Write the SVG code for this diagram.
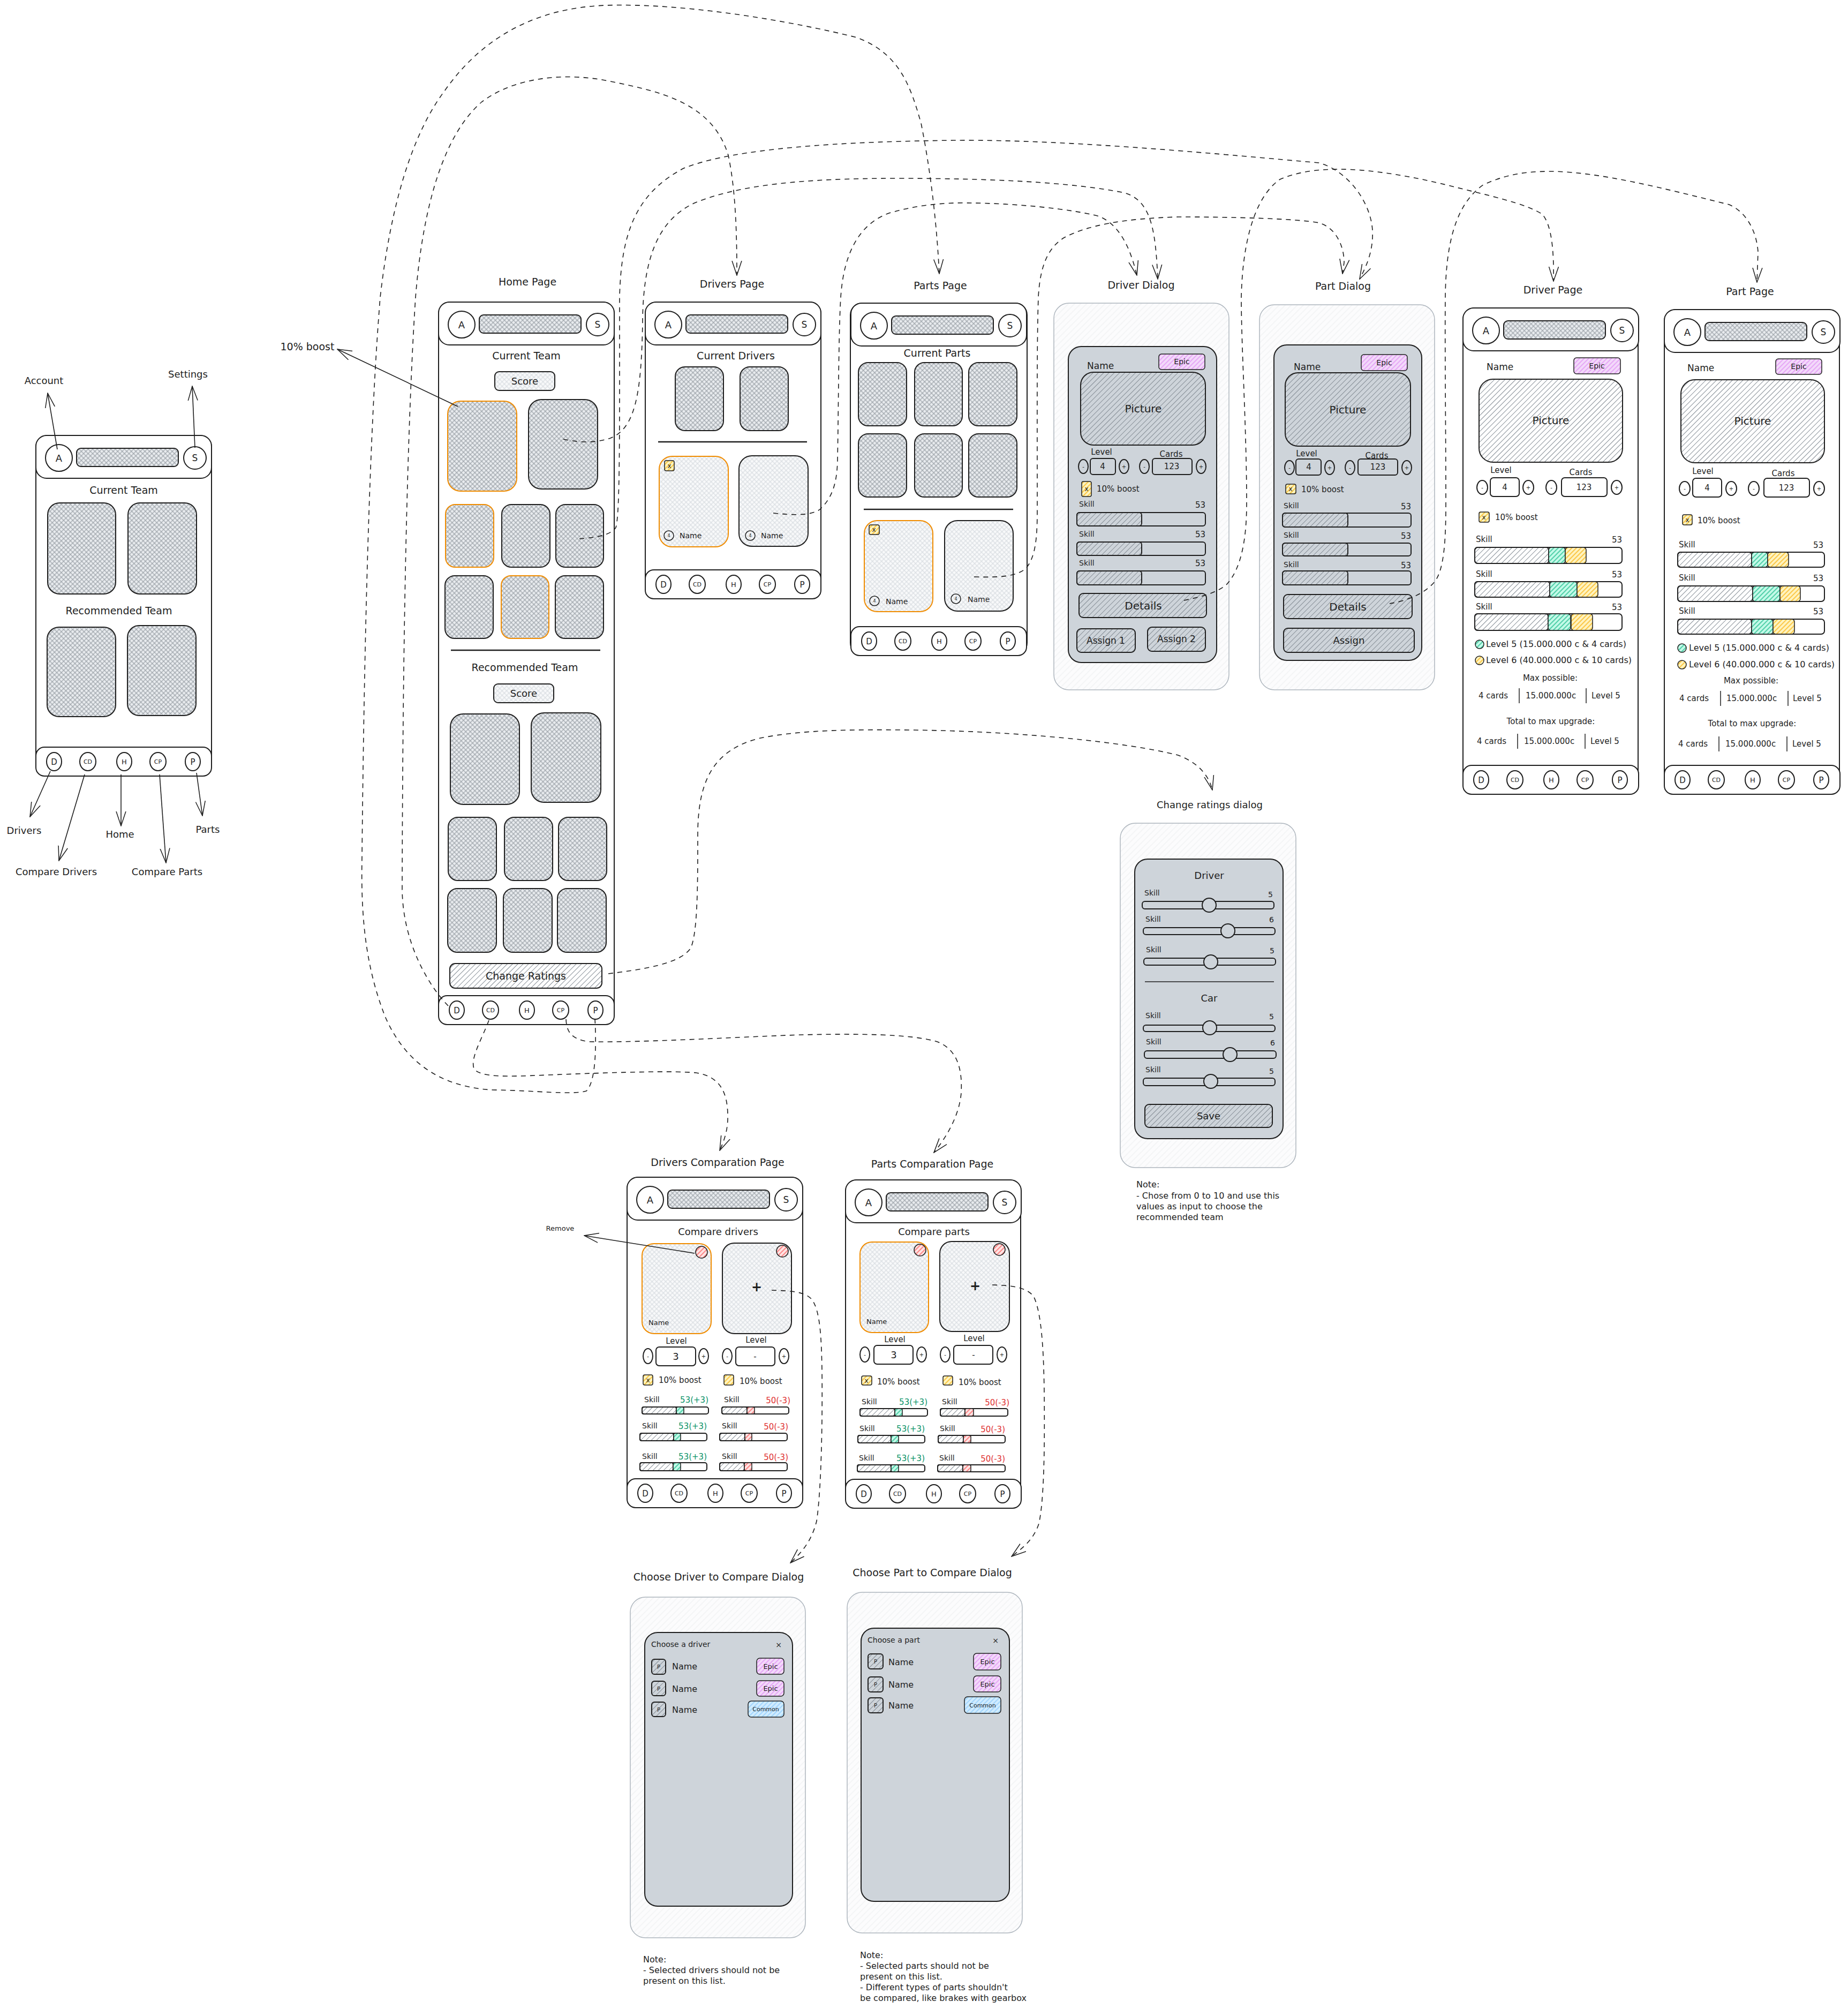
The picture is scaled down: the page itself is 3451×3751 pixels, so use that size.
<svg xmlns="http://www.w3.org/2000/svg" xmlns:xlink="http://www.w3.org/1999/xlink" width="3451" height="3751" viewBox="0 0 3451 3751">
<style>
.t{font-family:"DejaVu Sans","Liberation Sans",sans-serif;fill:#1e1e1e}
.m{text-anchor:middle}.e{text-anchor:end}
.f8{font-size:8px}.f10{font-size:10px}.f11{font-size:11px}.f12{font-size:12px}.f13{font-size:13px}.f14{font-size:14px}.f15{font-size:15px}.f16{font-size:16px}.f17{font-size:17px}.f18{font-size:18px}.f19{font-size:19px}.f20{font-size:20px}.f22{font-size:24px;font-weight:bold}
.wf{fill:#fff;stroke:#1e1e1e;stroke-width:2}
.ln{fill:none;stroke:#1e1e1e;stroke-width:2}
.lw{fill:none;stroke:#1e1e1e;stroke-width:1.5}
.xh{fill:url(#xh);stroke:#1e1e1e;stroke-width:2}
.xho{fill:url(#xh);stroke:#f08c00;stroke-width:2}
.lx{fill:url(#lx);stroke:#1e1e1e;stroke-width:2}
.lxo{fill:url(#lx);stroke:#f08c00;stroke-width:2}
.hg{fill:url(#hg);stroke:#1e1e1e;stroke-width:2}
.pan{fill:#ced4da;stroke:#1e1e1e;stroke-width:2}
.out{fill:url(#lh);stroke:#adb5bd;stroke-width:1.5}
.pu{fill:url(#pu);stroke:#1e1e1e;stroke-width:1.5}
.bl{fill:url(#blp);stroke:#1e1e1e;stroke-width:1.5}
.gn{fill:url(#gn);stroke:#1e1e1e;stroke-width:1.5}
.yl{fill:url(#yl);stroke:#1e1e1e;stroke-width:1.5}
.rd{fill:url(#rd);stroke:#1e1e1e;stroke-width:1.5}
.kn{fill:#ced4da;stroke:#1e1e1e;stroke-width:2}
.sep{stroke:#1e1e1e;stroke-width:2.5}
.sp{stroke:#1e1e1e;stroke-width:1.5}
.grt{fill:#099268}.rdt{fill:#e03131}
.cd{fill:none;stroke:#1e1e1e;stroke-width:1.6;stroke-dasharray:9 8;marker-end:url(#ah)}
.cs{fill:none;stroke:#1e1e1e;stroke-width:1.6;marker-end:url(#ah)}
</style>
<defs>
<pattern id="xh" width="6" height="6" patternUnits="userSpaceOnUse" patternTransform="rotate(45)"><rect width="6" height="6" fill="#e9ecef"/><path d="M0 3H6M3 0V6" stroke="#8d949b" stroke-width="1"/></pattern>
<pattern id="lx" width="6" height="6" patternUnits="userSpaceOnUse" patternTransform="rotate(45)"><rect width="6" height="6" fill="#f8f9fa"/><path d="M0 3H6M3 0V6" stroke="#d3d8dd" stroke-width="1"/></pattern>
<pattern id="hg" width="7" height="7" patternUnits="userSpaceOnUse" patternTransform="rotate(-45)"><path d="M0 3.5H7" stroke="#868e96" stroke-width="1"/></pattern>
<pattern id="lh" width="8" height="8" patternUnits="userSpaceOnUse" patternTransform="rotate(-45)"><rect width="8" height="8" fill="#fcfcfd"/><path d="M0 4H8" stroke="#eceef0" stroke-width="1"/></pattern>
<pattern id="pu" width="6" height="6" patternUnits="userSpaceOnUse" patternTransform="rotate(-45)"><rect width="6" height="6" fill="#f3d9fa"/><path d="M0 3H6" stroke="#da77f2" stroke-width="1"/></pattern>
<pattern id="blp" width="6" height="6" patternUnits="userSpaceOnUse" patternTransform="rotate(-45)"><rect width="6" height="6" fill="#d0ebff"/><path d="M0 3H6" stroke="#74c0fc" stroke-width="1"/></pattern>
<pattern id="gn" width="6" height="6" patternUnits="userSpaceOnUse" patternTransform="rotate(-45)"><rect width="6" height="6" fill="#c3fae8"/><path d="M0 3H6" stroke="#12b886" stroke-width="1.3"/></pattern>
<pattern id="yl" width="6" height="6" patternUnits="userSpaceOnUse" patternTransform="rotate(-45)"><rect width="6" height="6" fill="#fff3bf"/><path d="M0 3H6" stroke="#fab005" stroke-width="1.3"/></pattern>
<pattern id="rd" width="6" height="6" patternUnits="userSpaceOnUse" patternTransform="rotate(-45)"><rect width="6" height="6" fill="#ffe3e3"/><path d="M0 3H6" stroke="#fa5252" stroke-width="1.3"/></pattern>
<marker id="ah" markerWidth="28" markerHeight="20" viewBox="0 0 28 20" refX="27" refY="10" orient="auto" markerUnits="userSpaceOnUse"><path d="M0 1L27 10L0 19" fill="none" stroke="#1e1e1e" stroke-width="1.5"/></marker>
<g id="hdr">
<rect width="328" height="80" rx="20" class="wf"/>
<circle cx="43" cy="42" r="25" class="ln"/>
<text x="43" y="49" class="t m f18">A</text>
<rect x="76" y="24" width="190" height="34" rx="8" class="xh"/>
<circle cx="297" cy="42" r="21" class="ln"/>
<text x="297" y="48" class="t m f17">S</text>
</g>
<g id="nav">
<rect width="328" height="54" rx="16" class="wf"/>
<ellipse cx="34" cy="27" rx="14" ry="17" class="ln"/>
<ellipse cx="97" cy="27" rx="15" ry="17" class="ln"/>
<ellipse cx="165" cy="27" rx="14" ry="17" class="ln"/>
<ellipse cx="228" cy="27" rx="15" ry="17" class="ln"/>
<ellipse cx="293" cy="27" rx="14" ry="17" class="ln"/>
<text x="34" y="33" class="t m f15">D</text>
<text x="97" y="31" class="t m f11">CD</text>
<text x="165" y="32" class="t m f13">H</text>
<text x="228" y="31" class="t m f11">CP</text>
<text x="293" y="33" class="t m f15">P</text>
</g>
</defs>
<rect width="3451" height="3751" fill="#fff"/>

<!-- Overview phone -->
<g id="n-overview">
<rect x="67" y="813" width="328" height="636" rx="22" class="wf"/>
<use href="#hdr" x="67" y="813"/>
<text x="231" y="922" class="t m f19">Current Team</text>
<rect x="89" y="939" width="127" height="170" rx="22" class="xh"/>
<rect x="239" y="939" width="128" height="170" rx="22" class="xh"/>
<text x="222" y="1147" class="t m f19">Recommended Team</text>
<rect x="88" y="1171" width="128" height="167" rx="22" class="xh"/>
<rect x="238" y="1168" width="128" height="168" rx="22" class="xh"/>
<use href="#nav" x="67" y="1395"/>
</g>
<g id="n-labels">
<text x="82" y="717" class="t m f18">Account</text>
<text x="351" y="705" class="t m f18">Settings</text>
<text x="45" y="1557" class="t m f18">Drivers</text>
<text x="105" y="1634" class="t m f18">Compare Drivers</text>
<text x="224" y="1564" class="t m f18">Home</text>
<text x="312" y="1634" class="t m f18">Compare Parts</text>
<text x="388" y="1555" class="t m f18">Parts</text>
<text x="574" y="654" class="t m f19">10% boost</text>
<text x="1046" y="2298" class="t m f13">Remove</text>
</g>

<!-- Home page -->
<g id="n-home">
<text x="985" y="533" class="t m f19">Home Page</text>
<rect x="819" y="564" width="328" height="1348" rx="22" class="wf"/>
<use href="#hdr" x="819" y="564"/>
<text x="983" y="671" class="t m f19">Current Team</text>
<rect x="924" y="694" width="112" height="35" rx="8" class="lx"/>
<text x="980" y="718" class="t m f18">Score</text>
<rect x="836" y="749" width="129" height="168" rx="24" class="xho"/>
<rect x="987" y="746" width="129" height="167" rx="24" class="xh"/>
<rect x="832" y="942" width="90" height="117" rx="18" class="xho"/>
<rect x="937" y="942" width="90" height="117" rx="18" class="xh"/>
<rect x="1038" y="942" width="89" height="117" rx="18" class="xh"/>
<rect x="831" y="1075" width="90" height="117" rx="18" class="xh"/>
<rect x="936" y="1075" width="89" height="117" rx="18" class="xho"/>
<rect x="1037" y="1075" width="90" height="117" rx="18" class="xh"/>
<line x1="842" y1="1214" x2="1121" y2="1214" class="sep"/>
<text x="980" y="1253" class="t m f19">Recommended Team</text>
<rect x="922" y="1277" width="112" height="35" rx="8" class="lx"/>
<text x="978" y="1301" class="t m f18">Score</text>
<rect x="841" y="1333" width="129" height="169" rx="24" class="xh"/>
<rect x="992" y="1331" width="130" height="167" rx="24" class="xh"/>
<rect x="837" y="1526" width="90" height="118" rx="18" class="xh"/>
<rect x="942" y="1526" width="90" height="118" rx="18" class="xh"/>
<rect x="1043" y="1526" width="90" height="118" rx="18" class="xh"/>
<rect x="836" y="1659" width="91" height="119" rx="18" class="xh"/>
<rect x="940" y="1659" width="91" height="119" rx="18" class="xh"/>
<rect x="1041" y="1659" width="91" height="119" rx="18" class="xh"/>
<rect x="840" y="1799" width="284" height="46" rx="10" class="hg"/>
<text x="982" y="1829" class="t m f19">Change Ratings</text>
<use href="#nav" x="819" y="1859"/>
</g>

<!-- Drivers page -->
<g id="n-drivers">
<text x="1367" y="537" class="t m f19">Drivers Page</text>
<rect x="1205" y="564" width="328" height="554" rx="22" class="wf"/>
<use href="#hdr" x="1205" y="564"/>
<text x="1374" y="671" class="t m f19">Current Drivers</text>
<rect x="1261" y="685" width="90" height="119" rx="18" class="xh"/>
<rect x="1382" y="685" width="90" height="119" rx="18" class="xh"/>
<line x1="1229" y1="825" x2="1507" y2="825" class="sep"/>
<rect x="1231" y="852" width="129" height="169" rx="24" class="lxo"/>
<rect x="1241" y="860" width="18" height="19" rx="3" class="yl"/>
<text x="1250" y="874" class="t m f12">x</text>
<circle cx="1249" cy="1000" r="9" class="lw"/>
<text x="1249" y="1003" class="t m f8">4</text>
<text x="1269" y="1005" class="t f14">Name</text>
<rect x="1380" y="851" width="129" height="169" rx="24" class="lx"/>
<circle cx="1401" cy="1000" r="9" class="lw"/>
<text x="1401" y="1003" class="t m f8">4</text>
<text x="1421" y="1005" class="t f14">Name</text>
<use href="#nav" x="1205" y="1064"/>
</g>

<!-- Parts page -->
<g id="n-parts">
<text x="1756" y="540" class="t m f19">Parts Page</text>
<rect x="1588" y="566" width="330" height="656" rx="22" class="wf"/>
<use href="#hdr" x="1589" y="566"/>
<text x="1750" y="666" class="t m f19">Current Parts</text>
<rect x="1603" y="677" width="90" height="118" rx="18" class="xh"/>
<rect x="1708" y="677" width="89" height="118" rx="18" class="xh"/>
<rect x="1809" y="677" width="90" height="118" rx="18" class="xh"/>
<rect x="1603" y="810" width="90" height="118" rx="18" class="xh"/>
<rect x="1708" y="810" width="89" height="118" rx="18" class="xh"/>
<rect x="1809" y="810" width="90" height="118" rx="18" class="xh"/>
<line x1="1613" y1="951" x2="1892" y2="951" class="sep"/>
<rect x="1614" y="972" width="128" height="170" rx="24" class="lxo"/>
<rect x="1623" y="980" width="19" height="18" rx="3" class="yl"/>
<text x="1632" y="993" class="t m f12">x</text>
<circle cx="1633" cy="1122" r="9" class="lw"/>
<text x="1633" y="1125" class="t m f8">4</text>
<text x="1654" y="1128" class="t f14">Name</text>
<rect x="1764" y="972" width="128" height="169" rx="24" class="lx"/>
<circle cx="1785" cy="1118" r="9" class="lw"/>
<text x="1785" y="1121" class="t m f8">4</text>
<text x="1807" y="1124" class="t f14">Name</text>
<use href="#nav" x="1589" y="1170"/>
</g>

<!-- Driver dialog -->
<g id="n-driver-dialog">
<text x="2131" y="539" class="t m f19">Driver Dialog</text>
<rect x="1968" y="566" width="327" height="722" rx="28" class="out"/>
<rect x="1995" y="647" width="277" height="590" rx="24" class="pan"/>
<text x="2030" y="689" class="t f17">Name</text>
<rect x="2164" y="661" width="86" height="29" rx="5" class="pu"/>
<text x="2207" y="680" class="t m f14">Epic</text>
<rect x="2018" y="695" width="233" height="136" rx="24" class="hg"/>
<text x="2135" y="770" class="t m f20">Picture</text>
<text x="2057" y="849" class="t m f15">Level</text>
<text x="2187" y="853" class="t m f15">Cards</text>
<ellipse cx="2023" cy="871" rx="9" ry="13" class="ln"/><text x="2023" y="875" class="t m f10">-</text>
<rect x="2036" y="856" width="47" height="30" rx="5" class="ln"/><text x="2059" y="876" class="t m f15">4</text>
<ellipse cx="2099" cy="871" rx="9" ry="13" class="ln"/><text x="2099" y="875" class="t m f10">+</text>
<ellipse cx="2137" cy="871" rx="9" ry="13" class="ln"/><text x="2137" y="875" class="t m f10">-</text>
<rect x="2152" y="856" width="74" height="30" rx="5" class="ln"/><text x="2188" y="876" class="t m f15">123</text>
<ellipse cx="2243" cy="871" rx="9" ry="13" class="ln"/><text x="2243" y="875" class="t m f10">+</text>
<rect x="2020" y="899" width="18" height="28" rx="3" class="yl"/>
<text x="2029" y="917" class="t m f12">x</text>
<text x="2048" y="918" class="t f15">10% boost</text>
<text x="2015" y="946" class="t f14">Skill</text><text x="2251" y="948" class="t e f15">53</text>
<rect x="2011" y="957" width="240" height="25" rx="5" class="ln"/><rect x="2011" y="957" width="121" height="25" rx="5" class="hg"/>
<text x="2015" y="1002" class="t f14">Skill</text><text x="2251" y="1003" class="t e f15">53</text>
<rect x="2011" y="1012" width="240" height="25" rx="5" class="ln"/><rect x="2011" y="1012" width="121" height="25" rx="5" class="hg"/>
<text x="2015" y="1056" class="t f14">Skill</text><text x="2251" y="1057" class="t e f15">53</text>
<rect x="2011" y="1066" width="240" height="26" rx="5" class="ln"/><rect x="2011" y="1066" width="121" height="26" rx="5" class="hg"/>
<rect x="2015" y="1108" width="238" height="45" rx="8" class="hg"/>
<text x="2135" y="1138" class="t m f20">Details</text>
<rect x="2011" y="1174" width="109" height="44" rx="8" class="hg"/>
<text x="2065" y="1202" class="t m f17">Assign 1</text>
<rect x="2143" y="1171" width="108" height="45" rx="8" class="hg"/>
<text x="2197" y="1199" class="t m f17">Assign 2</text>
</g>

<!-- Part dialog -->
<g id="n-part-dialog">
<text x="2508" y="541" class="t m f19">Part Dialog</text>
<rect x="2352" y="569" width="327" height="719" rx="28" class="out"/>
<rect x="2379" y="644" width="276" height="589" rx="24" class="pan"/>
<text x="2416" y="691" class="t f17">Name</text>
<rect x="2542" y="662" width="86" height="30" rx="5" class="pu"/>
<text x="2585" y="682" class="t m f14">Epic</text>
<rect x="2400" y="696" width="234" height="137" rx="24" class="hg"/>
<text x="2517" y="772" class="t m f20">Picture</text>
<text x="2440" y="852" class="t m f15">Level</text>
<text x="2571" y="856" class="t m f15">Cards</text>
<ellipse cx="2408" cy="873" rx="9" ry="13" class="ln"/><text x="2408" y="877" class="t m f10">-</text>
<rect x="2420" y="857" width="47" height="30" rx="5" class="ln"/><text x="2444" y="877" class="t m f15">4</text>
<ellipse cx="2483" cy="873" rx="9" ry="13" class="ln"/><text x="2483" y="877" class="t m f10">+</text>
<ellipse cx="2521" cy="873" rx="9" ry="13" class="ln"/><text x="2521" y="877" class="t m f10">-</text>
<rect x="2536" y="857" width="74" height="30" rx="5" class="ln"/><text x="2573" y="877" class="t m f15">123</text>
<ellipse cx="2627" cy="873" rx="9" ry="13" class="ln"/><text x="2627" y="877" class="t m f10">+</text>
<rect x="2401" y="904" width="19" height="18" rx="3" class="yl"/>
<text x="2410" y="917" class="t m f12">x</text>
<text x="2430" y="919" class="t f15">10% boost</text>
<text x="2397" y="949" class="t f14">Skill</text><text x="2635" y="951" class="t e f15">53</text>
<rect x="2395" y="958" width="240" height="26" rx="5" class="ln"/><rect x="2395" y="958" width="122" height="26" rx="5" class="hg"/>
<text x="2397" y="1004" class="t f14">Skill</text><text x="2635" y="1006" class="t e f15">53</text>
<rect x="2395" y="1014" width="240" height="24" rx="5" class="ln"/><rect x="2395" y="1014" width="122" height="24" rx="5" class="hg"/>
<text x="2397" y="1059" class="t f14">Skill</text><text x="2635" y="1061" class="t e f15">53</text>
<rect x="2395" y="1066" width="240" height="26" rx="5" class="ln"/><rect x="2395" y="1066" width="122" height="26" rx="5" class="hg"/>
<rect x="2397" y="1110" width="240" height="45" rx="8" class="hg"/>
<text x="2517" y="1140" class="t m f20">Details</text>
<rect x="2397" y="1173" width="244" height="45" rx="8" class="hg"/>
<text x="2519" y="1202" class="t m f18">Assign</text>
</g>

<!-- Driver page -->
<g id="n-driver-page">
<text x="2900" y="548" class="t m f19">Driver Page</text>
<rect x="2732" y="575" width="327" height="907" rx="22" class="wf"/>
<use href="#hdr" x="2732" y="575"/>
<text x="2776" y="691" class="t f17">Name</text>
<rect x="2939" y="668" width="87" height="30" rx="5" class="pu"/>
<text x="2982" y="688" class="t m f14">Epic</text>
<rect x="2762" y="708" width="268" height="155" rx="26" class="hg"/>
<text x="2896" y="792" class="t m f20">Picture</text>
<text x="2803" y="883" class="t m f15">Level</text>
<text x="2952" y="887" class="t m f15">Cards</text>
<ellipse cx="2768" cy="910" rx="10" ry="13" class="ln"/><text x="2768" y="914" class="t m f10">-</text>
<rect x="2783" y="892" width="54" height="35" rx="6" class="ln"/><text x="2810" y="915" class="t m f15">4</text>
<ellipse cx="2854" cy="910" rx="10" ry="13" class="ln"/><text x="2854" y="914" class="t m f10">+</text>
<ellipse cx="2897" cy="910" rx="10" ry="13" class="ln"/><text x="2897" y="914" class="t m f10">-</text>
<rect x="2916" y="892" width="85" height="35" rx="6" class="ln"/><text x="2958" y="915" class="t m f15">123</text>
<ellipse cx="3019" cy="910" rx="10" ry="13" class="ln"/><text x="3019" y="914" class="t m f10">+</text>
<rect x="2762" y="956" width="19" height="19" rx="3" class="yl"/>
<text x="2771" y="970" class="t m f12">x</text>
<text x="2792" y="971" class="t f15">10% boost</text>
<text x="2756" y="1012" class="t f15">Skill</text><text x="3029" y="1013" class="t e f15">53</text>
<rect x="2754" y="1022" width="275" height="30" rx="6" class="ln"/>
<rect x="2754" y="1022" width="138" height="30" rx="5" class="hg"/><rect x="2892" y="1022" width="31" height="30" rx="5" class="gn"/><rect x="2923" y="1022" width="39" height="30" rx="5" class="yl"/>
<text x="2756" y="1077" class="t f15">Skill</text><text x="3029" y="1078" class="t e f15">53</text>
<rect x="2754" y="1086" width="275" height="29" rx="6" class="ln"/>
<rect x="2754" y="1086" width="140" height="29" rx="5" class="hg"/><rect x="2894" y="1086" width="51" height="29" rx="5" class="gn"/><rect x="2945" y="1086" width="39" height="29" rx="5" class="yl"/>
<text x="2756" y="1138" class="t f15">Skill</text><text x="3029" y="1139" class="t e f15">53</text>
<rect x="2754" y="1146" width="275" height="31" rx="6" class="ln"/>
<rect x="2754" y="1146" width="137" height="31" rx="5" class="hg"/><rect x="2891" y="1146" width="42" height="31" rx="5" class="gn"/><rect x="2934" y="1146" width="40" height="31" rx="5" class="yl"/>
<circle cx="2763" cy="1203" r="8" class="gn"/>
<text x="2775" y="1208" class="t f16">Level 5 (15.000.000 c &amp; 4 cards)</text>
<circle cx="2763" cy="1233" r="8" class="yl"/>
<text x="2775" y="1238" class="t f16">Level 6 (40.000.000 c &amp; 10 cards)</text>
<text x="2895" y="1271" class="t m f15">Max possible:</text>
<text x="2761" y="1304" class="t f15">4 cards</text><line x1="2837" y1="1285" x2="2837" y2="1313" class="sp"/>
<text x="2849" y="1304" class="t f15">15.000.000c</text><line x1="2962" y1="1285" x2="2962" y2="1313" class="sp"/>
<text x="2972" y="1304" class="t f15">Level 5</text>
<text x="2896" y="1352" class="t m f15">Total to max upgrade:</text>
<text x="2758" y="1389" class="t f15">4 cards</text><line x1="2834" y1="1370" x2="2834" y2="1398" class="sp"/>
<text x="2846" y="1389" class="t f15">15.000.000c</text><line x1="2960" y1="1370" x2="2960" y2="1398" class="sp"/>
<text x="2970" y="1389" class="t f15">Level 5</text>
<use href="#nav" x="2732" y="1429"/>
</g>

<!-- Part page -->
<g id="n-part-page">
<text x="3268" y="551" class="t m f19">Part Page</text>
<rect x="3108" y="578" width="327" height="904" rx="22" class="wf"/>
<use href="#hdr" x="3108" y="578"/>
<text x="3151" y="693" class="t f17">Name</text>
<rect x="3316" y="670" width="86" height="29" rx="5" class="pu"/>
<text x="3359" y="689" class="t m f14">Epic</text>
<rect x="3139" y="709" width="268" height="155" rx="26" class="hg"/>
<text x="3273" y="793" class="t m f20">Picture</text>
<text x="3180" y="885" class="t m f15">Level</text>
<text x="3330" y="889" class="t m f15">Cards</text>
<ellipse cx="3146" cy="912" rx="10" ry="13" class="ln"/><text x="3146" y="916" class="t m f10">-</text>
<rect x="3161" y="893" width="54" height="35" rx="6" class="ln"/><text x="3188" y="916" class="t m f15">4</text>
<ellipse cx="3233" cy="912" rx="10" ry="13" class="ln"/><text x="3233" y="916" class="t m f10">+</text>
<ellipse cx="3275" cy="912" rx="10" ry="13" class="ln"/><text x="3275" y="916" class="t m f10">-</text>
<rect x="3294" y="893" width="85" height="35" rx="6" class="ln"/><text x="3336" y="916" class="t m f15">123</text>
<ellipse cx="3397" cy="912" rx="10" ry="13" class="ln"/><text x="3397" y="916" class="t m f10">+</text>
<rect x="3142" y="961" width="18" height="19" rx="3" class="yl"/>
<text x="3151" y="975" class="t m f12">x</text>
<text x="3170" y="977" class="t f15">10% boost</text>
<text x="3135" y="1022" class="t f15">Skill</text><text x="3405" y="1023" class="t e f15">53</text>
<rect x="3133" y="1031" width="274" height="28" rx="6" class="ln"/>
<rect x="3133" y="1031" width="138" height="28" rx="5" class="hg"/><rect x="3271" y="1031" width="30" height="28" rx="5" class="gn"/><rect x="3301" y="1031" width="39" height="28" rx="5" class="yl"/>
<text x="3135" y="1084" class="t f15">Skill</text><text x="3405" y="1085" class="t e f15">53</text>
<rect x="3133" y="1094" width="274" height="29" rx="6" class="ln"/>
<rect x="3133" y="1094" width="140" height="29" rx="5" class="hg"/><rect x="3273" y="1094" width="51" height="29" rx="5" class="gn"/><rect x="3324" y="1094" width="38" height="29" rx="5" class="yl"/>
<text x="3135" y="1146" class="t f15">Skill</text><text x="3405" y="1147" class="t e f15">53</text>
<rect x="3133" y="1156" width="274" height="28" rx="6" class="ln"/>
<rect x="3133" y="1156" width="138" height="28" rx="5" class="hg"/><rect x="3271" y="1156" width="40" height="28" rx="5" class="gn"/><rect x="3311" y="1156" width="40" height="28" rx="5" class="yl"/>
<circle cx="3141" cy="1210" r="8" class="gn"/>
<text x="3154" y="1215" class="t f16">Level 5 (15.000.000 c &amp; 4 cards)</text>
<circle cx="3141" cy="1241" r="8" class="yl"/>
<text x="3154" y="1246" class="t f16">Level 6 (40.000.000 c &amp; 10 cards)</text>
<text x="3270" y="1276" class="t m f15">Max possible:</text>
<text x="3136" y="1309" class="t f15">4 cards</text><line x1="3213" y1="1290" x2="3213" y2="1318" class="sp"/>
<text x="3224" y="1309" class="t f15">15.000.000c</text><line x1="3339" y1="1290" x2="3339" y2="1318" class="sp"/>
<text x="3348" y="1309" class="t f15">Level 5</text>
<text x="3272" y="1356" class="t m f15">Total to max upgrade:</text>
<text x="3134" y="1394" class="t f15">4 cards</text><line x1="3210" y1="1375" x2="3210" y2="1403" class="sp"/>
<text x="3222" y="1394" class="t f15">15.000.000c</text><line x1="3337" y1="1375" x2="3337" y2="1403" class="sp"/>
<text x="3347" y="1394" class="t f15">Level 5</text>
<use href="#nav" x="3108" y="1429"/>
</g>

<!-- Change ratings dialog -->
<g id="n-ratings">
<text x="2259" y="1509" class="t m f18">Change ratings dialog</text>
<rect x="2092" y="1537" width="328" height="643" rx="28" class="out"/>
<rect x="2119" y="1604" width="277" height="522" rx="24" class="pan"/>
<text x="2258" y="1641" class="t m f18">Driver</text>
<text x="2137" y="1672" class="t f14">Skill</text><text x="2377" y="1675" class="t e f14">5</text>
<rect x="2133" y="1683" width="246" height="14" rx="5" class="ln"/><circle cx="2258" cy="1690" r="13" class="kn"/>
<text x="2139" y="1721" class="t f14">Skill</text><text x="2379" y="1722" class="t e f14">6</text>
<rect x="2135" y="1732" width="246" height="13" rx="5" class="ln"/><circle cx="2293" cy="1738" r="13" class="kn"/>
<text x="2140" y="1778" class="t f14">Skill</text><text x="2380" y="1780" class="t e f14">5</text>
<rect x="2136" y="1789" width="246" height="13" rx="5" class="ln"/><circle cx="2261" cy="1796" r="13" class="kn"/>
<line x1="2138" y1="1833" x2="2379" y2="1833" class="sp"/>
<text x="2258" y="1870" class="t m f18">Car</text>
<text x="2139" y="1901" class="t f14">Skill</text><text x="2379" y="1903" class="t e f14">5</text>
<rect x="2135" y="1914" width="246" height="12" rx="5" class="ln"/><circle cx="2259" cy="1919" r="13" class="kn"/>
<text x="2140" y="1950" class="t f14">Skill</text><text x="2381" y="1952" class="t e f14">6</text>
<rect x="2137" y="1962" width="246" height="14" rx="5" class="ln"/><circle cx="2297" cy="1969" r="13" class="kn"/>
<text x="2139" y="2002" class="t f14">Skill</text><text x="2379" y="2005" class="t e f14">5</text>
<rect x="2135" y="2013" width="246" height="14" rx="5" class="ln"/><circle cx="2261" cy="2019" r="13" class="kn"/>
<rect x="2138" y="2062" width="238" height="43" rx="8" class="hg"/>
<text x="2257" y="2090" class="t m f18">Save</text>
<text x="2122" y="2217" class="t f16">Note:</text>
<text x="2122" y="2238" class="t f16">- Chose from 0 to 10 and use this</text>
<text x="2122" y="2258" class="t f16">values as input to choose the</text>
<text x="2122" y="2278" class="t f16">recommended team</text>
</g>

<!-- Drivers comparation page -->
<g id="n-drivers-compare">
<text x="1340" y="2177" class="t m f19">Drivers Comparation Page</text>
<rect x="1171" y="2198" width="328" height="616" rx="22" class="wf"/>
<use href="#hdr" x="1171" y="2198"/>
<text x="1341" y="2306" class="t m f18">Compare drivers</text>
<rect x="1199" y="2322" width="129" height="168" rx="22" class="lxo"/>
<circle cx="1310" cy="2338" r="11" class="rd"/>
<text x="1211" y="2474" class="t f13">Name</text>
<rect x="1349" y="2321" width="129" height="169" rx="22" class="lx"/>
<circle cx="1461" cy="2336" r="11" class="rd"/>
<text x="1413" y="2411" class="t m f22">+</text>
<text x="1263" y="2509" class="t m f15">Level</text>
<text x="1412" y="2507" class="t m f15">Level</text>
<ellipse cx="1210" cy="2532" rx="9" ry="14" class="ln"/><text x="1210" y="2536" class="t m f10">-</text>
<rect x="1225" y="2515" width="74" height="35" rx="6" class="ln"/><text x="1262" y="2539" class="t m f18">3</text>
<ellipse cx="1314" cy="2532" rx="9" ry="14" class="ln"/><text x="1314" y="2536" class="t m f10">+</text>
<ellipse cx="1358" cy="2532" rx="9" ry="14" class="ln"/><text x="1358" y="2536" class="t m f10">-</text>
<rect x="1374" y="2515" width="73" height="35" rx="6" class="ln"/><text x="1410" y="2538" class="t m f15">-</text>
<ellipse cx="1464" cy="2532" rx="9" ry="14" class="ln"/><text x="1464" y="2536" class="t m f10">+</text>
<rect x="1201" y="2567" width="18" height="19" rx="3" class="yl"/><text x="1210" y="2581" class="t m f12">x</text>
<text x="1230" y="2582" class="t f15">10% boost</text>
<rect x="1352" y="2567" width="18" height="19" rx="3" class="yl"/>
<text x="1381" y="2584" class="t f15">10% boost</text>
<text x="1203" y="2618" class="t f14">Skill</text><text x="1323" y="2619" class="t e f15 grt">53(+3)</text>
<rect x="1199" y="2627" width="124" height="13" rx="4" class="ln"/><rect x="1199" y="2627" width="64" height="13" rx="3" class="hg"/><rect x="1263" y="2627" width="14" height="13" rx="3" class="gn"/>
<text x="1352" y="2618" class="t f14">Skill</text><text x="1476" y="2620" class="t e f15 rdt">50(-3)</text>
<rect x="1348" y="2627" width="125" height="13" rx="4" class="ln"/><rect x="1348" y="2627" width="47" height="13" rx="3" class="hg"/><rect x="1395" y="2627" width="14" height="13" rx="3" class="rd"/>
<text x="1199" y="2667" class="t f14">Skill</text><text x="1320" y="2668" class="t e f15 grt">53(+3)</text>
<rect x="1195" y="2676" width="125" height="14" rx="4" class="ln"/><rect x="1195" y="2676" width="63" height="14" rx="3" class="hg"/><rect x="1258" y="2676" width="13" height="14" rx="3" class="gn"/>
<text x="1348" y="2667" class="t f14">Skill</text><text x="1472" y="2669" class="t e f15 rdt">50(-3)</text>
<rect x="1344" y="2676" width="126" height="14" rx="4" class="ln"/><rect x="1344" y="2676" width="47" height="14" rx="3" class="hg"/><rect x="1391" y="2676" width="13" height="14" rx="3" class="rd"/>
<text x="1199" y="2724" class="t f14">Skill</text><text x="1320" y="2725" class="t e f15 grt">53(+3)</text>
<rect x="1195" y="2731" width="125" height="15" rx="4" class="ln"/><rect x="1195" y="2731" width="62" height="15" rx="3" class="hg"/><rect x="1257" y="2731" width="14" height="15" rx="3" class="gn"/>
<text x="1348" y="2724" class="t f14">Skill</text><text x="1472" y="2726" class="t e f15 rdt">50(-3)</text>
<rect x="1344" y="2731" width="126" height="15" rx="4" class="ln"/><rect x="1344" y="2731" width="46" height="15" rx="3" class="hg"/><rect x="1390" y="2731" width="14" height="15" rx="3" class="rd"/>
<use href="#nav" x="1171" y="2761"/>
</g>

<!-- Parts comparation page -->
<g id="n-parts-compare">
<text x="1741" y="2180" class="t m f19">Parts Comparation Page</text>
<rect x="1579" y="2203" width="327" height="613" rx="22" class="wf"/>
<use href="#hdr" x="1579" y="2203"/>
<text x="1744" y="2306" class="t m f18">Compare parts</text>
<rect x="1606" y="2319" width="128" height="169" rx="22" class="lxo"/>
<circle cx="1718" cy="2334" r="11" class="rd"/>
<text x="1618" y="2472" class="t f13">Name</text>
<rect x="1755" y="2318" width="130" height="168" rx="22" class="lx"/>
<circle cx="1866" cy="2333" r="11" class="rd"/>
<text x="1821" y="2409" class="t m f22">+</text>
<text x="1671" y="2506" class="t m f15">Level</text>
<text x="1819" y="2504" class="t m f15">Level</text>
<ellipse cx="1615" cy="2529" rx="9" ry="14" class="ln"/><text x="1615" y="2533" class="t m f10">-</text>
<rect x="1632" y="2512" width="73" height="35" rx="6" class="ln"/><text x="1669" y="2536" class="t m f18">3</text>
<ellipse cx="1721" cy="2529" rx="9" ry="14" class="ln"/><text x="1721" y="2533" class="t m f10">+</text>
<ellipse cx="1765" cy="2529" rx="9" ry="14" class="ln"/><text x="1765" y="2533" class="t m f10">-</text>
<rect x="1781" y="2512" width="73" height="35" rx="6" class="ln"/><text x="1818" y="2535" class="t m f15">-</text>
<ellipse cx="1871" cy="2529" rx="9" ry="14" class="ln"/><text x="1871" y="2533" class="t m f10">+</text>
<rect x="1609" y="2569" width="19" height="17" rx="3" class="yl"/><text x="1618" y="2582" class="t m f12">x</text>
<text x="1638" y="2585" class="t f15">10% boost</text>
<rect x="1761" y="2569" width="18" height="17" rx="3" class="yl"/>
<text x="1790" y="2586" class="t f15">10% boost</text>
<text x="1609" y="2622" class="t f14">Skill</text><text x="1732" y="2623" class="t e f15 grt">53(+3)</text>
<rect x="1606" y="2630" width="126" height="14" rx="4" class="ln"/><rect x="1606" y="2630" width="65" height="14" rx="3" class="hg"/><rect x="1671" y="2630" width="14" height="14" rx="3" class="gn"/>
<text x="1759" y="2622" class="t f14">Skill</text><text x="1885" y="2624" class="t e f15 rdt">50(-3)</text>
<rect x="1756" y="2630" width="126" height="14" rx="4" class="ln"/><rect x="1756" y="2630" width="46" height="14" rx="3" class="hg"/><rect x="1802" y="2630" width="16" height="14" rx="3" class="rd"/>
<text x="1605" y="2672" class="t f14">Skill</text><text x="1727" y="2673" class="t e f15 grt">53(+3)</text>
<rect x="1602" y="2680" width="125" height="14" rx="4" class="ln"/><rect x="1602" y="2680" width="62" height="14" rx="3" class="hg"/><rect x="1664" y="2680" width="14" height="14" rx="3" class="gn"/>
<text x="1755" y="2672" class="t f14">Skill</text><text x="1877" y="2674" class="t e f15 rdt">50(-3)</text>
<rect x="1752" y="2680" width="125" height="14" rx="4" class="ln"/><rect x="1752" y="2680" width="47" height="14" rx="3" class="hg"/><rect x="1799" y="2680" width="14" height="14" rx="3" class="rd"/>
<text x="1604" y="2727" class="t f14">Skill</text><text x="1727" y="2728" class="t e f15 grt">53(+3)</text>
<rect x="1601" y="2735" width="126" height="13" rx="4" class="ln"/><rect x="1601" y="2735" width="63" height="13" rx="3" class="hg"/><rect x="1664" y="2735" width="14" height="13" rx="3" class="gn"/>
<text x="1754" y="2727" class="t f14">Skill</text><text x="1877" y="2729" class="t e f15 rdt">50(-3)</text>
<rect x="1751" y="2735" width="126" height="13" rx="4" class="ln"/><rect x="1751" y="2735" width="47" height="13" rx="3" class="hg"/><rect x="1798" y="2735" width="15" height="13" rx="3" class="rd"/>
<use href="#nav" x="1579" y="2762"/>
</g>

<!-- Choose driver dialog -->
<g id="n-choose-driver">
<text x="1342" y="2951" class="t m f19">Choose Driver to Compare Dialog</text>
<rect x="1177" y="2982" width="327" height="636" rx="28" class="out"/>
<rect x="1204" y="3048" width="276" height="511" rx="24" class="pan"/>
<text x="1216" y="3075" class="t f14">Choose a driver</text>
<text x="1454" y="3076" class="t m f14">×</text>
<rect x="1217" y="3098" width="26" height="28" rx="5" class="hg"/><text x="1230" y="3116" class="t m f10">P</text>
<text x="1255" y="3117" class="t f16">Name</text>
<rect x="1413" y="3096" width="51" height="30" rx="6" class="pu"/><text x="1439" y="3116" class="t m f13">Epic</text>
<rect x="1217" y="3139" width="26" height="27" rx="5" class="hg"/><text x="1230" y="3157" class="t m f10">P</text>
<text x="1255" y="3159" class="t f16">Name</text>
<rect x="1413" y="3138" width="51" height="29" rx="6" class="pu"/><text x="1439" y="3157" class="t m f13">Epic</text>
<rect x="1217" y="3178" width="26" height="27" rx="5" class="hg"/><text x="1230" y="3196" class="t m f10">P</text>
<text x="1255" y="3198" class="t f16">Name</text>
<rect x="1397" y="3176" width="67" height="30" rx="6" class="bl"/><text x="1430" y="3195" class="t m f11">Common</text>
<text x="1201" y="3664" class="t f16">Note:</text>
<text x="1201" y="3684" class="t f16">- Selected drivers should not be</text>
<text x="1201" y="3704" class="t f16">present on this list.</text>
</g>

<!-- Choose part dialog -->
<g id="n-choose-part">
<text x="1741" y="2943" class="t m f19">Choose Part to Compare Dialog</text>
<rect x="1582" y="2973" width="327" height="636" rx="28" class="out"/>
<rect x="1608" y="3040" width="277" height="510" rx="24" class="pan"/>
<text x="1620" y="3067" class="t f14">Choose a part</text>
<text x="1859" y="3068" class="t m f14">×</text>
<rect x="1621" y="3088" width="28" height="28" rx="5" class="hg"/><text x="1635" y="3106" class="t m f10">P</text>
<text x="1659" y="3109" class="t f16">Name</text>
<rect x="1818" y="3087" width="51" height="31" rx="6" class="pu"/><text x="1844" y="3107" class="t m f13">Epic</text>
<rect x="1621" y="3131" width="28" height="28" rx="5" class="hg"/><text x="1635" y="3149" class="t m f10">P</text>
<text x="1659" y="3151" class="t f16">Name</text>
<rect x="1818" y="3129" width="51" height="30" rx="6" class="pu"/><text x="1844" y="3149" class="t m f13">Epic</text>
<rect x="1621" y="3170" width="28" height="28" rx="5" class="hg"/><text x="1635" y="3188" class="t m f10">P</text>
<text x="1659" y="3190" class="t f16">Name</text>
<rect x="1801" y="3168" width="68" height="31" rx="6" class="bl"/><text x="1835" y="3188" class="t m f11">Common</text>
<text x="1606" y="3656" class="t f16">Note:</text>
<text x="1606" y="3676" class="t f16">- Selected parts should not be</text>
<text x="1606" y="3696" class="t f16">present on this list.</text>
<text x="1606" y="3716" class="t f16">- Different types of parts shouldn't</text>
<text x="1606" y="3736" class="t f16">be compared, like brakes with gearbox</text>
</g>

<!-- Connectors -->
<g id="connectors">
<path class="cs" d="M107,839 L89,734"/>
<path class="cs" d="M364,836 L359,721"/>
<path class="cs" d="M94,1440 L56,1525"/>
<path class="cs" d="M158,1446 L110,1607"/>
<path class="cs" d="M226,1446 L226,1542"/>
<path class="cs" d="M298,1446 L310,1611"/>
<path class="cs" d="M367,1443 L378,1523"/>
<path class="cs" d="M855,759 L630,652"/>
<path class="cs" d="M1297,2340 L1091,2307"/>
<path class="cd" d="M837,1878 C800,1840 752,1760 751,1660 C752,1200 760,800 776,555 C790,380 830,250 900,190 C960,145 1050,135 1130,150 C1230,170 1330,190 1360,290 C1375,360 1376,450 1376,514"/>
<path class="cd" d="M1111,1902 C1114,1960 1112,2020 1095,2037 C1070,2045 1000,2036 920,2035 C830,2030 760,1990 720,1900 C680,1800 674,1700 676,1600 C680,1200 690,800 710,555 C730,380 770,250 830,170 C900,70 1000,15 1130,10 C1280,5 1480,40 1600,70 C1680,100 1700,160 1720,230 C1740,330 1750,430 1754,511"/>
<path class="cd" d="M913,1905 C900,1940 878,1975 885,1995 C895,2012 950,2010 1000,2008 C1100,2004 1250,1998 1300,2003 C1345,2010 1358,2040 1359,2080 C1360,2110 1352,2130 1344,2148"/>
<path class="cd" d="M1057,1903 C1058,1925 1065,1940 1100,1945 C1200,1947 1400,1935 1500,1932 C1600,1930 1700,1930 1750,1945 C1790,1960 1797,2000 1795,2040 C1792,2080 1770,2120 1744,2152"/>
<path class="cd" d="M1052,820 C1080,826 1110,828 1140,818 C1185,800 1198,740 1200,600 C1201,480 1230,410 1297,379 C1380,345 1500,333 1675,333 C1850,333 2000,340 2100,360 C2150,375 2158,430 2162,521"/>
<path class="cd" d="M1082,1006 C1110,1004 1140,1000 1150,985 C1158,960 1157,800 1157,555 C1160,430 1190,360 1277,314 C1350,285 1500,265 1784,262 C2000,260 2300,290 2463,304 C2520,320 2560,380 2563,430 C2565,470 2550,500 2539,521"/>
<path class="cd" d="M1444,958 C1480,962 1512,963 1530,952 C1555,930 1563,900 1564,860 C1566,750 1566,620 1570,555 C1575,480 1600,420 1660,398 C1720,380 1780,378 1814,379 C1900,380 2000,390 2053,404 C2090,420 2110,460 2123,514"/>
<path class="cd" d="M1819,1077 C1860,1078 1895,1078 1915,1062 C1935,1040 1937,1000 1937,950 C1937,800 1936,650 1939,555 C1942,500 1955,465 1985,445 C2030,420 2100,408 2200,405 C2300,405 2420,408 2463,416 C2495,425 2510,460 2510,490 L2507,511"/>
<path class="cd" d="M2211,1121 C2240,1115 2270,1108 2290,1092 C2320,1060 2328,1000 2328,940 C2328,800 2318,650 2318,555 C2320,460 2340,370 2390,335 C2430,318 2470,316 2503,316 C2560,316 2640,330 2700,345 C2780,365 2850,380 2880,400 C2898,420 2902,470 2901,525"/>
<path class="cd" d="M2595,1127 C2625,1122 2660,1110 2680,1085 C2698,1060 2700,1000 2700,940 C2700,800 2698,650 2699,555 C2700,450 2720,380 2770,345 C2820,322 2860,320 2900,320 C2990,322 3100,350 3229,382 C3260,395 3280,430 3283,470 L3281,527"/>
<path class="cd" d="M1136,1818 C1200,1810 1270,1800 1290,1770 C1303,1740 1303,1650 1303,1560 C1303,1460 1330,1400 1420,1378 C1500,1362 1600,1362 1700,1363 C1900,1365 2100,1385 2200,1410 C2240,1425 2258,1450 2264,1475"/>
<path class="cd" d="M1441,2409 C1470,2410 1500,2410 1515,2425 C1532,2445 1534,2500 1535,2560 C1536,2650 1534,2780 1525,2840 C1515,2880 1495,2900 1476,2918"/>
<path class="cd" d="M1853,2399 C1885,2400 1915,2402 1930,2420 C1945,2450 1949,2520 1950,2600 C1951,2700 1950,2800 1940,2845 C1930,2875 1910,2890 1889,2906"/>
</g>
</svg>
